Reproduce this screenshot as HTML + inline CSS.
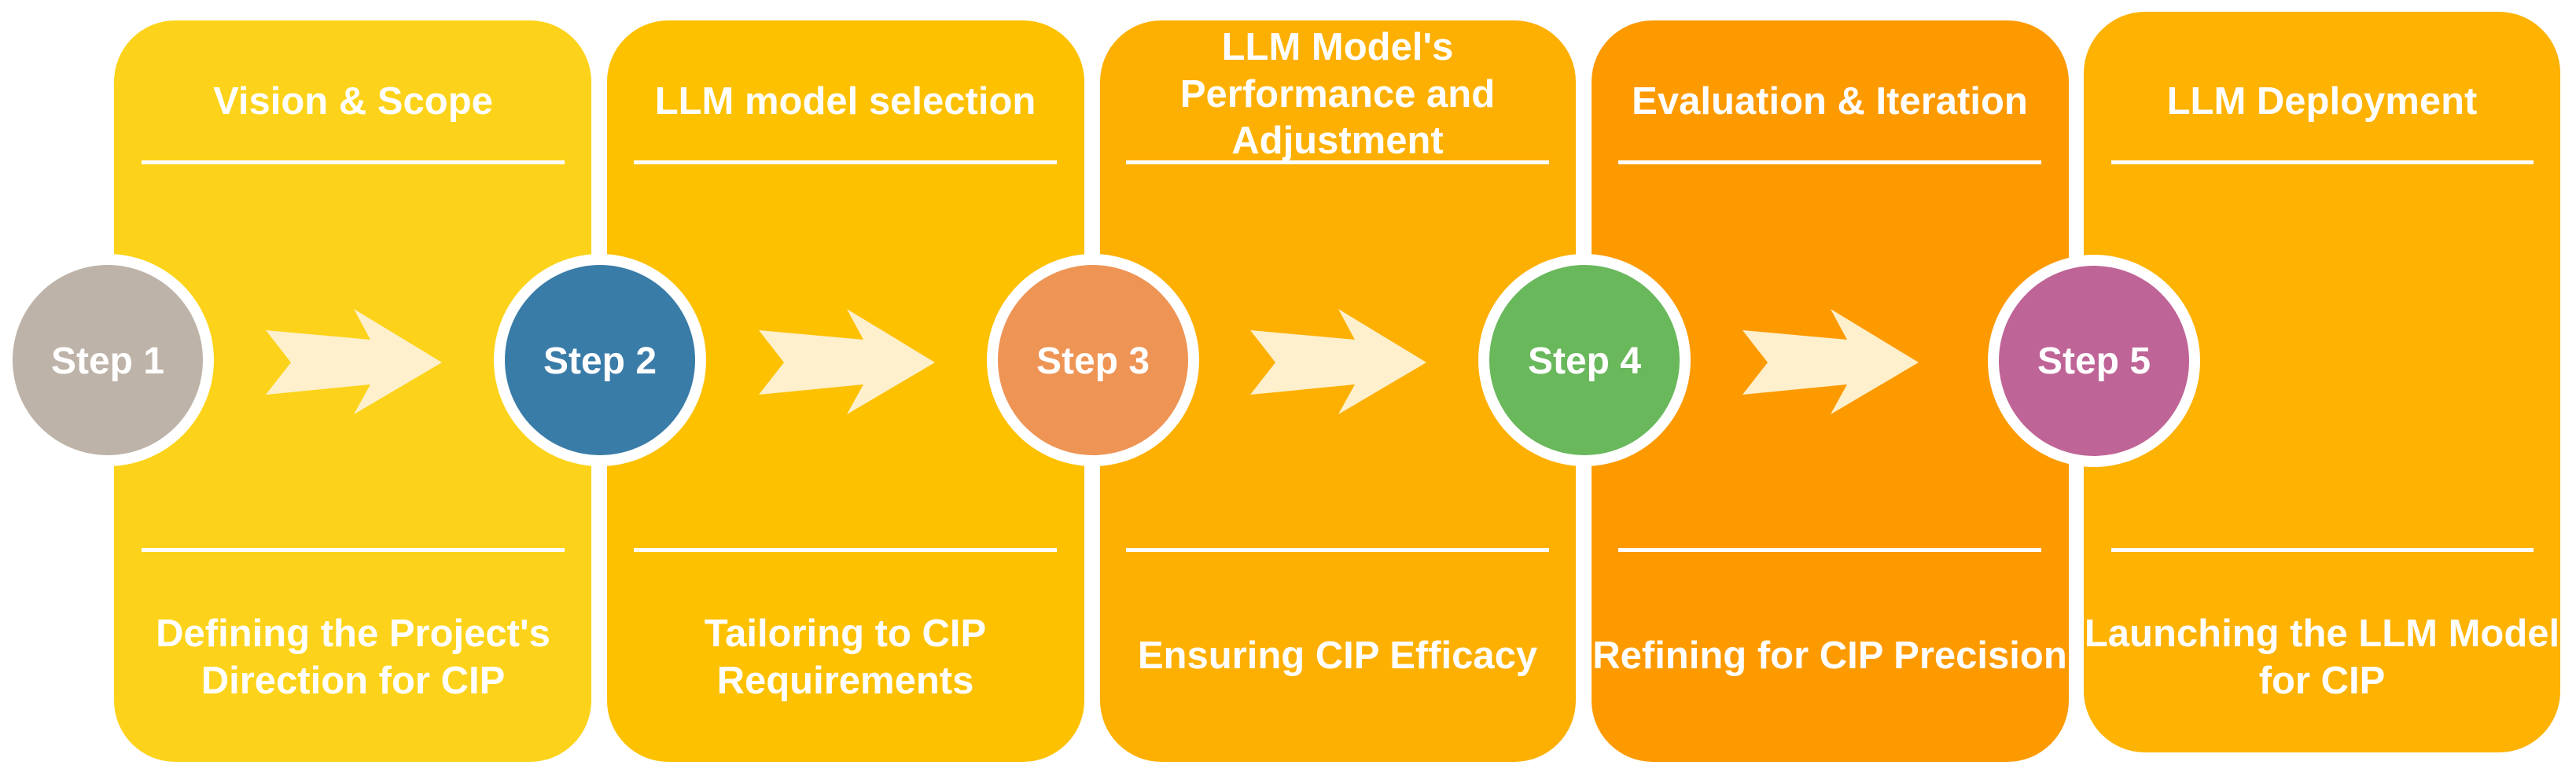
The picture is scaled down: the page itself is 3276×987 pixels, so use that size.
<!DOCTYPE html>
<html><head><meta charset="utf-8"><style>
html,body{margin:0;padding:0;background:#fff;}
svg{display:block;}
text{font-family:"Liberation Sans",Arial,sans-serif;font-weight:bold;fill:#fff;text-anchor:middle;}
</style></head><body>
<svg width="3276" height="987" viewBox="0 0 3276 987" xmlns="http://www.w3.org/2000/svg">
<defs>
<polygon id="arr" points="0,0 32,41 0,82 133,69 112,107 224,41 112,-27 133,12" fill="#FEF0CC"/>
</defs>
<!-- panels -->
<rect x="145" y="26" width="607" height="943" rx="78" fill="#FCD31A"/>
<rect x="772" y="26" width="607" height="943" rx="78" fill="#FDC100"/>
<rect x="1399" y="26" width="605" height="943" rx="78" fill="#FDB002"/>
<rect x="2024" y="26" width="607" height="943" rx="78" fill="#FD9A00"/>
<rect x="2650" y="15" width="606" height="942" rx="78" fill="#FEB201"/>
<!-- lines -->
<g fill="#fff">
<rect x="180" y="204" width="538" height="5"/><rect x="180" y="697" width="538" height="5"/>
<rect x="806" y="204" width="538" height="5"/><rect x="806" y="697" width="538" height="5"/>
<rect x="1432" y="204" width="538" height="5"/><rect x="1432" y="697" width="538" height="5"/>
<rect x="2058" y="204" width="538" height="5"/><rect x="2058" y="697" width="538" height="5"/>
<rect x="2685" y="204" width="537" height="5"/><rect x="2685" y="697" width="537" height="5"/>
</g>
<!-- arrows -->
<use href="#arr" x="338" y="420"/>
<use href="#arr" x="965" y="420"/>
<use href="#arr" x="1590" y="420"/>
<use href="#arr" x="2216" y="420"/>
<!-- circles -->
<circle cx="137" cy="458" r="135" fill="#fff"/><circle cx="137" cy="458" r="121" fill="#BEB3A8"/>
<circle cx="763" cy="458" r="135" fill="#fff"/><circle cx="763" cy="458" r="121" fill="#3A7CA8"/>
<circle cx="1390" cy="458" r="135" fill="#fff"/><circle cx="1390" cy="458" r="121" fill="#EE9455"/>
<circle cx="2015" cy="458" r="135" fill="#fff"/><circle cx="2015" cy="458" r="121" fill="#69B85C"/>
<circle cx="2663" cy="459" r="135" fill="#fff"/><circle cx="2663" cy="459" r="121" fill="#BF6497"/>
<g font-size="48">
<text x="137" y="475">Step 1</text>
<text x="763" y="475">Step 2</text>
<text x="1390" y="475">Step 3</text>
<text x="2015" y="475">Step 4</text>
<text x="2663" y="475">Step 5</text>
</g>
<!-- titles -->
<g font-size="49">
<text x="449" y="145">Vision &amp; Scope</text>
<text x="1075" y="145">LLM model selection</text>
<text x="1701" y="76">LLM Model's</text>
<text x="1701" y="136">Performance and</text>
<text x="1701" y="195">Adjustment</text>
<text x="2327" y="145">Evaluation &amp; Iteration</text>
<text x="2953" y="145">LLM Deployment</text>
<!-- bottom -->
<text x="449" y="822">Defining the Project's</text>
<text x="449" y="882">Direction for CIP</text>
<text x="1075" y="822">Tailoring to CIP</text>
<text x="1075" y="882">Requirements</text>
<text x="1701" y="850">Ensuring CIP Efficacy</text>
<text x="2327" y="850">Refining for CIP Precision</text>
<text x="2953" y="822">Launching the LLM Model</text>
<text x="2953" y="882">for CIP</text>
</g>
</svg>
</body></html>
